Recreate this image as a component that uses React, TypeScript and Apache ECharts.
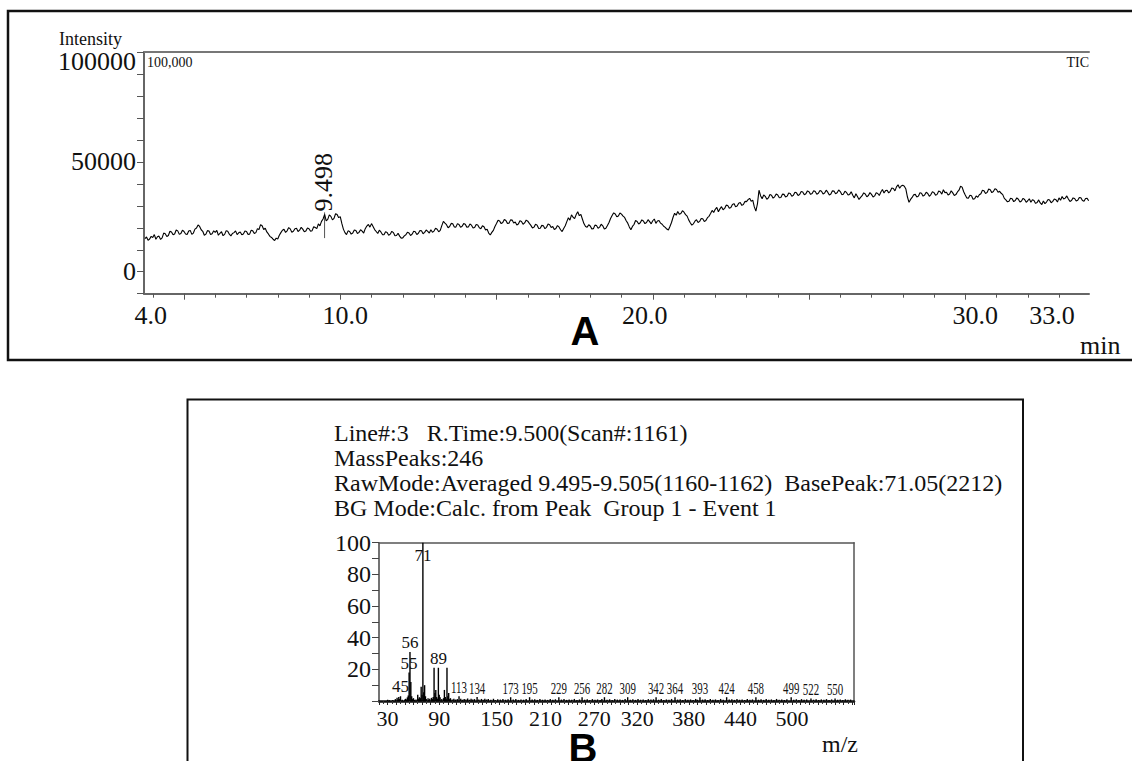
import React, { useEffect, useRef } from "react";
import * as echarts from "echarts";

// ---------- Panel A: total ion chromatogram ----------
const ticTimeStart = 3.75; // min, first scan shown
const ticTimeStep = 0.05; // min between samples
// intensity in thousands of counts (20 samples per minute)
const ticIntensityK = [
  15.1, 15.8, 14.3, 14.9, 16.1,
  15.6, 16.9, 14.8, 15.9, 16.2, 14.7, 15.4, 17.6, 17.3, 16.0, 16.5, 18.4, 18.1, 16.8, 17.2, 19.0, 18.6, 17.0, 17.4, 18.9,
  18.3, 17.2, 16.9, 18.5, 18.8, 17.0, 17.6, 19.4, 19.9, 21.3, 20.6, 19.1, 18.4, 16.6, 17.1, 18.7, 18.5, 16.9, 17.3, 18.6,
  17.9, 18.8, 16.6, 17.5, 18.2, 16.4, 17.0, 18.7, 18.4, 17.1, 16.3, 17.4, 17.8, 18.6, 16.9, 17.7, 18.1, 16.8, 17.2, 18.5,
  18.3, 17.0, 17.1, 18.9, 18.6, 17.4, 17.8, 19.6, 19.2, 21.4, 20.9, 19.2, 19.8, 18.1, 17.2, 16.1, 15.6, 14.8, 14.2, 15.3,
  14.9, 16.6, 17.8, 18.9, 19.3, 17.9, 18.6, 20.1, 19.5, 18.0, 18.4, 19.6, 19.8, 18.3, 18.9, 20.2, 19.4, 18.2, 18.5, 19.9,
  19.6, 18.4, 18.7, 20.5, 20.1, 19.6, 21.8, 20.9, 22.9, 24.0, 26.1, 23.1, 23.8, 25.9, 25.2, 23.6, 24.3, 26.4, 26.0, 24.6,
  25.1, 22.0, 19.4, 17.8, 16.9, 18.6, 18.3, 17.1, 17.6, 19.0, 18.8, 17.4, 17.9, 19.1, 18.5, 17.6, 19.6, 20.8, 21.5, 20.3,
  21.9, 20.6, 19.2, 18.3, 17.4, 18.9, 18.1, 16.9, 16.8, 18.2, 17.9, 16.6, 17.1, 18.4, 17.8, 16.4, 16.5, 17.5, 16.2, 15.3,
  15.4, 16.3, 16.8, 18.0, 17.6, 16.5, 17.1, 18.4, 18.2, 16.9, 17.5, 18.8, 18.6, 17.3, 17.9, 19.0, 18.4, 17.6, 19.1, 18.0,
  18.5, 19.8, 19.3, 18.2, 18.8, 21.0, 22.9, 22.1, 21.4, 20.0, 20.6, 22.0, 21.8, 20.4, 20.3, 21.9, 21.5, 20.2, 20.7, 21.9,
  21.6, 20.3, 20.4, 21.7, 21.2, 19.9, 20.1, 21.5, 21.3, 20.0, 19.6, 20.9, 20.5, 19.0, 19.3, 17.6, 16.7, 17.9, 18.8, 20.6,
  21.9, 23.4, 23.1, 21.9, 22.4, 23.8, 23.3, 22.0, 22.1, 23.6, 23.5, 22.2, 22.6, 21.3, 21.7, 23.2, 22.9, 21.6, 22.2, 23.5,
  23.0, 22.0, 21.1, 19.9, 20.3, 21.6, 21.2, 19.7, 19.8, 21.1, 20.9, 19.6, 20.2, 21.7, 21.4, 20.1, 20.6, 19.2, 19.7, 21.0,
  20.4, 19.1, 18.3, 19.7, 20.9, 22.8, 24.6, 23.5, 25.9, 24.8, 24.2, 26.0, 27.3, 25.5, 26.1, 23.9, 21.8, 20.6, 20.2, 21.4,
  20.8, 19.5, 19.6, 21.2, 21.0, 19.8, 20.3, 21.6, 20.9, 19.4, 19.8, 21.0, 22.4, 24.2, 25.6, 26.8, 26.3, 25.0, 25.4, 26.7,
  26.2, 25.3, 24.7, 23.2, 22.1, 20.4, 19.1, 20.6, 21.5, 23.3, 22.9, 21.7, 22.3, 23.6, 23.1, 21.9, 22.4, 23.7, 22.8, 21.8,
  23.2, 24.0, 22.0, 23.1, 23.3, 22.1, 21.6, 20.7, 20.2, 19.4, 19.0, 20.6, 22.4, 24.8, 26.6, 25.7, 27.4, 26.2, 26.5, 27.8,
  27.1, 26.0, 25.3, 23.6, 22.3, 21.2, 21.8, 23.0, 23.7, 22.4, 22.9, 24.2, 24.1, 22.9, 23.3, 24.6, 25.2, 26.5, 27.9, 27.0,
  28.4, 29.3, 27.3, 28.6, 29.6, 28.2, 28.8, 30.3, 30.1, 28.9, 29.2, 30.6, 31.0, 29.6, 29.9, 31.2, 31.5, 30.2, 30.6, 32.0,
  31.9, 32.8, 33.4, 32.1, 32.6, 29.5, 27.6, 30.9, 37.1, 34.6, 33.2, 34.9, 34.3, 33.0, 33.6, 35.1, 34.8, 33.5, 34.1, 35.4,
  34.9, 33.7, 33.8, 35.3, 35.2, 34.0, 34.4, 35.8, 35.6, 34.3, 34.8, 36.2, 35.9, 34.7, 35.1, 36.5, 36.3, 35.0, 35.5, 36.8,
  36.4, 35.2, 35.6, 36.9, 36.5, 35.3, 35.7, 37.0, 36.6, 35.4, 35.8, 37.1, 36.2, 34.9, 35.4, 36.8, 36.7, 35.5, 35.9, 37.2,
  36.5, 35.1, 35.3, 36.6, 36.1, 34.9, 35.2, 36.4, 34.8, 33.6, 35.5, 34.2, 32.9, 33.8, 34.6, 35.9, 35.4, 34.1, 34.7, 36.0,
  35.2, 34.0, 34.5, 35.9, 35.6, 34.7, 36.3, 37.4, 35.8, 36.9, 37.1, 35.9, 36.6, 38.1, 37.9, 36.8, 38.6, 39.6, 38.0, 39.0,
  39.4, 38.9, 37.6, 34.0, 31.6, 32.9, 33.8, 35.0, 35.2, 34.0, 34.4, 35.9, 35.7, 34.4, 34.9, 36.2, 35.6, 34.3, 35.1, 36.4,
  36.0, 34.8, 35.2, 36.7, 36.4, 35.3, 37.3, 36.0, 36.2, 34.9, 35.4, 36.8, 35.9, 34.7, 35.1, 36.3, 37.1, 38.9, 38.5, 36.4,
  34.9, 33.6, 33.4, 34.8, 34.6, 33.0, 33.2, 34.5, 33.9, 35.0, 35.5, 37.1, 36.8, 35.6, 36.1, 37.6, 37.3, 36.0, 36.5, 37.8,
  37.4, 36.2, 36.6, 35.7, 35.1, 33.4, 32.7, 31.8, 32.1, 33.4, 33.2, 31.9, 32.4, 33.6, 33.0, 31.7, 32.2, 33.4, 32.9, 31.6,
  32.3, 33.2, 31.6, 32.8, 32.4, 31.1, 31.5, 32.7, 31.3, 30.6, 32.2, 31.0, 31.7, 32.9, 32.6, 31.4, 32.0, 33.1, 32.8, 31.7,
  33.6, 32.5, 34.2, 33.1, 33.5, 34.5, 33.1, 32.0, 32.4, 33.6, 33.3, 32.2, 32.5, 33.8, 33.7, 32.4, 32.1, 33.3, 33.4, 32.3,
];
const ticTickMinutes = [4, 5, 6, 7, 8, 9, 10, 11, 12, 13, 14, 15, 16, 17, 18, 19, 20, 21, 22, 23, 24, 25, 26, 27, 28, 29, 30, 31, 32, 33];
const ticMajorTickMinutes = [5, 10, 15, 20, 25, 30];
const ticLabelMinutes = [4, 10, 20, 30, 33];
const ticYLabelValues = [0, 50000, 100000];
const peakTimes = [9.498];
const peakApex = [27000];
const peakFoot = [15300];

// ---------- Panel B: mass spectrum at 9.500 min ----------
const spectrumPeaks: [number, number][] = [
  [30, 0.8], [32, 0.5], [36, 0.6], [39, 1.2], [41, 2.0], [42, 1.0], [43, 2.6], [44, 1.2], [45, 3.0], [47, 0.8],
  [50, 1.0], [51, 1.4], [52, 0.9], [53, 2.3], [54, 3.5], [55, 18], [56, 31], [57, 12], [58, 3.0], [59, 1.2],
  [60, 1.8], [61, 0.8], [63, 1.0], [65, 4.0], [66, 1.5], [67, 2.4], [68, 1.8], [69, 9], [70, 4], [71, 100],
  [72, 5.5], [73, 10], [74, 3], [75, 1.2], [77, 1.8], [78, 0.8], [79, 1.4], [81, 2.0], [82, 1.2], [83, 2.6],
  [84, 21], [85, 5], [86, 7], [87, 2.5], [88, 1.5], [89, 21], [90, 4], [91, 2.4], [93, 1.2], [95, 1.8],
  [96, 7], [97, 2.6], [98, 1.5], [99, 21], [100, 3], [101, 5], [102, 1.2], [103, 1.8], [105, 1.0], [107, 1.4],
  [109, 0.9], [111, 1.2], [113, 3], [115, 1.4], [117, 0.8], [119, 1.2], [121, 1.0], [123, 1.6], [125, 0.8], [127, 1.4],
  [129, 0.9], [131, 1.2], [134, 2.5], [136, 1.0], [139, 1.3], [141, 0.8], [143, 1.5], [145, 0.9], [147, 1.2], [150, 0.8],
  [153, 1.4], [155, 0.7], [158, 1.1], [161, 0.9], [164, 1.3], [167, 0.8], [170, 1.1], [173, 2.4], [176, 0.9], [179, 1.2],
  [182, 0.7], [185, 1.0], [188, 0.8], [191, 1.2], [195, 2.4], [198, 0.9], [201, 1.1], [204, 0.7], [207, 1.3], [210, 0.8],
  [213, 1.0], [216, 0.7], [219, 1.2], [222, 0.8], [225, 1.1], [229, 2.4], [232, 0.9], [235, 1.2], [238, 0.7], [241, 1.0],
  [244, 0.8], [247, 1.3], [250, 0.7], [253, 1.0], [256, 2.4], [259, 0.8], [262, 1.1], [265, 0.7], [268, 1.2], [271, 0.8],
  [274, 1.0], [277, 0.7], [279, 1.3], [282, 2.4], [285, 0.8], [288, 1.1], [291, 0.7], [294, 1.2], [297, 0.9], [300, 1.0],
  [303, 0.7], [306, 1.2], [309, 2.4], [312, 0.8], [315, 1.1], [318, 0.7], [321, 1.3], [324, 0.8], [327, 1.0], [330, 0.7],
  [333, 1.2], [336, 0.9], [339, 1.1], [342, 2.4], [345, 0.8], [348, 1.2], [351, 0.7], [354, 1.0], [357, 0.8], [360, 1.3],
  [364, 2.4], [367, 0.9], [370, 1.1], [373, 0.7], [376, 1.2], [379, 0.8], [382, 1.0], [385, 0.7], [388, 1.3], [390, 0.8],
  [393, 2.4], [396, 0.9], [399, 1.1], [402, 0.7], [405, 1.2], [408, 0.8], [411, 1.0], [414, 0.7], [417, 1.3], [420, 0.8],
  [424, 2.4], [427, 0.9], [430, 1.1], [433, 0.7], [436, 1.2], [439, 0.8], [442, 1.0], [445, 0.7], [448, 1.3], [451, 0.8],
  [454, 1.0], [458, 2.4], [461, 0.8], [464, 1.1], [467, 0.7], [470, 1.2], [473, 0.8], [476, 1.0], [479, 0.7], [482, 1.3],
  [485, 0.8], [488, 1.0], [491, 0.7], [494, 1.1], [499, 2.4], [502, 0.8], [505, 1.1], [508, 0.7], [511, 1.2], [514, 0.8],
  [517, 1.0], [522, 1.6], [525, 0.8], [528, 1.1], [531, 0.7], [534, 1.0], [537, 0.8], [540, 1.2], [543, 0.7], [546, 1.0],
  [550, 1.6], [553, 0.8], [556, 1.0], [559, 0.7], [562, 1.1], [565, 0.8], [568, 0.9],
];
const labeledMz = [45, 55, 56, 71, 89, 113, 134, 173, 195, 229, 256, 282, 309, 342, 364, 393, 424, 458, 499, 522, 550];
const mzTickLabels = [30, 90, 150, 210, 270, 320, 380, 440, 500];
const relTickLabels = [20, 40, 60, 80, 100];
const infoLines = [
  "Line#:3\u00a0\u00a0\u00a0R.Time:9.500(Scan#:1161)",
  "MassPeaks:246",
  "RawMode:Averaged 9.495-9.505(1160-1162)\u00a0\u00a0BasePeak:71.05(2212)",
  "BG Mode:Calc. from Peak\u00a0\u00a0Group 1 - Event 1",
];

const SERIF = '"Liberation Serif", "Times New Roman", serif';
const SANS = '"Liberation Sans", Arial, sans-serif';

// horizontal nudges (px) of some tick labels, as printed by the instrument software
const ticLabelNudge: Record<number, number> = { 4: -2, 10: 5, 20: -8, 30: 10, 33: -7 };
const mzLabelNudge: Record<number, number> = { 150: 6, 210: 3 };

function nudgeRich(nudges: Record<number, number>, size: number) {
  const rich: any = {};
  Object.keys(nudges).forEach((k) => {
    const s = nudges[Number(k)];
    rich["n" + k] = {
      fontSize: size,
      fontFamily: SERIF,
      color: "#111",
      padding: s > 0 ? [0, 0, 0, 2 * s] : [0, -2 * s, 0, 0],
    };
  });
  return rich;
}

export default function App() {
  const ref = useRef<HTMLDivElement>(null);

  useEffect(() => {
    if (!ref.current) return;
    const chart = echarts.init(ref.current, undefined, { renderer: "svg" });

    const ticData = ticIntensityK.map((k, i) => [
      Math.round((ticTimeStart + i * ticTimeStep) * 1000) / 1000,
      k * 1000,
    ]);
    const peakMarkerData = peakTimes.map((t, i) => [t, peakApex[i], peakFoot[i]]);
    const intensityOf = (m: number) => {
      const p = spectrumPeaks.find((q) => q[0] === m);
      return p ? p[1] : 0;
    };
    const labelData = labeledMz.map((m) => [m, intensityOf(m)]);

    const infoTexts = infoLines.map((line, i) => ({
      type: "text",
      x: 334,
      y: 433 + i * 25,
      silent: true,
      style: {
        text: line,
        fontSize: 24,
        fontFamily: SERIF,
        fill: "#111",
        align: "left",
        verticalAlign: "middle",
      },
    }));

    const option: any = {
      animation: false,
      backgroundColor: "#fff",
      grid: [
        { left: 144, top: 52, width: 945, height: 241.7 },
        { left: 379, top: 542.7, width: 475, height: 158.3 },
      ],
      xAxis: [
        {
          gridIndex: 0,
          type: "value",
          min: 3.72,
          max: 33.96,
          position: "bottom",
          axisLine: { show: true, onZero: false, lineStyle: { color: "#666", width: 2 } },
          axisTick: { show: true, customValues: ticTickMinutes, length: 4, lineStyle: { color: "#555", width: 1 } },
          axisLabel: {
            customValues: ticLabelMinutes,
            formatter: (v: number) => (ticLabelNudge[v] !== undefined ? `{n${v}|${v.toFixed(1)}}` : v.toFixed(1)),
            fontSize: 26,
            fontFamily: SERIF,
            color: "#111",
            margin: 9,
            rich: nudgeRich(ticLabelNudge, 26),
          },
          splitLine: { show: false },
        },
        {
          gridIndex: 0,
          type: "value",
          min: 3.72,
          max: 33.96,
          position: "top",
          axisLine: { show: true, onZero: false, lineStyle: { color: "#777", width: 2 } },
          axisTick: { show: false },
          axisLabel: { show: false },
          splitLine: { show: false },
        },
        {
          gridIndex: 1,
          type: "value",
          min: 20,
          max: 572,
          interval: 10,
          position: "bottom",
          axisLine: { show: true, onZero: false, lineStyle: { color: "#111", width: 2.5 } },
          axisTick: { show: true, length: 4, lineStyle: { color: "#222", width: 1 } },
          minorTick: { show: true, splitNumber: 2, length: 3, lineStyle: { color: "#333", width: 1 } },
          axisLabel: {
            customValues: mzTickLabels,
            formatter: (v: number) => (mzLabelNudge[v] !== undefined ? `{n${v}|${v}}` : String(v)),
            fontSize: 22,
            fontFamily: SERIF,
            color: "#111",
            margin: 6,
            rich: nudgeRich(mzLabelNudge, 22),
          },
          splitLine: { show: false },
        },
        {
          gridIndex: 1,
          type: "value",
          min: 20,
          max: 572,
          position: "top",
          axisLine: { show: true, onZero: false, lineStyle: { color: "#555", width: 1.5 } },
          axisTick: { show: false },
          axisLabel: { show: false },
          splitLine: { show: false },
        },
        {
          gridIndex: 0,
          type: "value",
          min: 3.72,
          max: 33.96,
          position: "bottom",
          axisLine: { show: false, onZero: false },
          axisTick: { show: true, customValues: ticMajorTickMinutes, length: 6, lineStyle: { color: "#555", width: 1 } },
          axisLabel: { show: false },
          splitLine: { show: false },
        },
      ],
      yAxis: [
        {
          gridIndex: 0,
          type: "value",
          min: -10000,
          max: 100000,
          interval: 10000,
          axisLine: { show: true, onZero: false, lineStyle: { color: "#666", width: 2 } },
          axisTick: { show: true, length: 7, lineStyle: { color: "#555", width: 1 } },
          axisLabel: {
            customValues: ticYLabelValues,
            formatter: (v: number) => (v === 100000 ? "{t|100000}" : String(v)),
            fontSize: 26,
            fontFamily: SERIF,
            color: "#111",
            margin: 8,
            rich: { t: { fontSize: 26, fontFamily: SERIF, color: "#111", padding: [18, 0, 0, 0] } },
          },
          splitLine: { show: false },
        },
        {
          gridIndex: 1,
          type: "value",
          min: 0,
          max: 100,
          interval: 10,
          axisLine: { show: true, onZero: false, lineStyle: { color: "#444", width: 1.5 } },
          axisTick: { show: true, length: 7, lineStyle: { color: "#444", width: 1 } },
          axisLabel: {
            customValues: relTickLabels,
            fontSize: 24,
            fontFamily: SERIF,
            color: "#111",
            margin: 8,
          },
          splitLine: { show: false },
        },
        {
          gridIndex: 1,
          type: "value",
          min: 0,
          max: 100,
          position: "right",
          axisLine: { show: true, onZero: false, lineStyle: { color: "#555", width: 1.5 } },
          axisTick: { show: false },
          axisLabel: { show: false },
          splitLine: { show: false },
        },
      ],
      series: [
        {
          type: "line",
          xAxisIndex: 0,
          yAxisIndex: 0,
          data: ticData,
          showSymbol: false,
          symbol: "none",
          silent: true,
          lineStyle: { color: "#000", width: 1.1 },
        },
        {
          type: "custom",
          xAxisIndex: 0,
          yAxisIndex: 0,
          data: peakMarkerData,
          silent: true,
          renderItem: (_params: any, api: any) => {
            const t = api.value(0);
            const top = api.coord([t, api.value(1)]);
            const foot = api.coord([t, api.value(2)]);
            return {
              type: "group",
              children: [
                {
                  type: "line",
                  shape: { x1: top[0], y1: top[1], x2: foot[0], y2: foot[1] },
                  style: { stroke: "#555", lineWidth: 1 },
                },
                {
                  type: "text",
                  x: top[0] - 1,
                  y: top[1] - 1,
                  rotation: Math.PI / 2,
                  style: {
                    text: t.toFixed(3),
                    fontSize: 26,
                    fontFamily: SERIF,
                    fill: "#111",
                    align: "left",
                    verticalAlign: "middle",
                  },
                },
              ],
            };
          },
        },
        {
          type: "bar",
          xAxisIndex: 2,
          yAxisIndex: 1,
          data: spectrumPeaks,
          barWidth: 1.4,
          silent: true,
          itemStyle: { color: "#000" },
        },
        {
          type: "custom",
          xAxisIndex: 2,
          yAxisIndex: 1,
          data: labelData,
          silent: true,
          renderItem: (_params: any, api: any) => {
            const m = api.value(0);
            const v = api.value(1);
            const p = api.coord([m, v]);
            const txt = String(m);
            const three = txt.length > 2;
            const inside = v >= 99;
            return {
              type: "text",
              x: p[0],
              y: inside ? p[1] + 4 : p[1] - 1,
              scaleX: three ? 0.64 : 1,
              style: {
                text: txt,
                fontSize: 17,
                fontFamily: SERIF,
                fill: "#111",
                align: "center",
                verticalAlign: inside ? "top" : "bottom",
              },
            };
          },
        },
      ],
      graphic: [
        {
          type: "rect",
          silent: true,
          shape: { x: 8, y: 11, width: 1140, height: 349 },
          style: { fill: "none", stroke: "#111", lineWidth: 2.5 },
        },
        {
          type: "rect",
          silent: true,
          shape: { x: 187.5, y: 399.5, width: 835.5, height: 420 },
          style: { fill: "none", stroke: "#111", lineWidth: 2 },
        },
        {
          type: "text",
          x: 59,
          y: 39,
          silent: true,
          style: { text: "Intensity", fontSize: 18, fontFamily: SERIF, fill: "#111", align: "left", verticalAlign: "middle" },
        },
        {
          type: "text",
          x: 147,
          y: 62,
          silent: true,
          style: { text: "100,000", fontSize: 14, fontFamily: SERIF, fill: "#111", align: "left", verticalAlign: "middle" },
        },
        {
          type: "text",
          x: 1089,
          y: 62,
          silent: true,
          style: { text: "TIC", fontSize: 14, fontFamily: SERIF, fill: "#111", align: "right", verticalAlign: "middle" },
        },
        {
          type: "text",
          x: 1080,
          y: 345,
          silent: true,
          style: { text: "min", fontSize: 26, fontFamily: SERIF, fill: "#111", align: "left", verticalAlign: "middle" },
        },
        {
          type: "text",
          x: 585,
          y: 331,
          silent: true,
          style: { text: "A", fontSize: 40, fontWeight: "bold", fontFamily: SANS, fill: "#000", align: "center", verticalAlign: "middle" },
        },
        ...infoTexts,
        {
          type: "text",
          x: 822,
          y: 744,
          silent: true,
          style: { text: "m/z", fontSize: 24, fontFamily: SERIF, fill: "#111", align: "left", verticalAlign: "middle" },
        },
        {
          type: "text",
          x: 583,
          y: 748,
          silent: true,
          style: { text: "B", fontSize: 40, fontWeight: "bold", fontFamily: SANS, fill: "#000", align: "center", verticalAlign: "middle" },
        },
      ],
    };

    chart.setOption(option);
    return () => {
      chart.dispose();
    };
  }, []);

  return (
    <div
      ref={ref}
      style={{ position: "fixed", left: 0, top: 0, width: 1132, height: 761, background: "#fff" }}
    />
  );
}
